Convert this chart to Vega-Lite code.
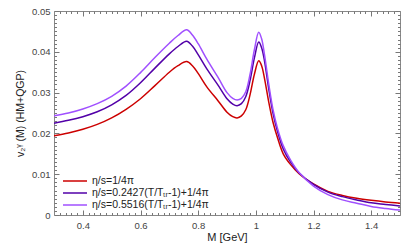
{
  "$schema": "https://vega.github.io/schema/vega-lite/v6.json",
  "width": 346,
  "height": 204,
  "autosize": {"type": "none"},
  "padding": {"left": 54, "top": 11, "right": 12, "bottom": 32},
  "background": "white",
  "config": {
    "font": "Liberation Sans",
    "view": {"stroke": "#888", "strokeWidth": 1},
    "axis": {"grid": false, "domain": false, "tickColor": "#777", "labelColor": "#444", "labelFont": "Liberation Sans", "titleFont": "Liberation Sans", "titleFontWeight": "normal", "titleColor": "#222"}
  },
  "data": {"values": [
    {"M":0.3,"a":0.0194,"b":0.0225,"c":0.0243},
    {"M":0.35,"a":0.0201,"b":0.0232,"c":0.0250},
    {"M":0.4,"a":0.0210,"b":0.0241,"c":0.0260},
    {"M":0.45,"a":0.0222,"b":0.0253,"c":0.0273},
    {"M":0.5,"a":0.0238,"b":0.0270,"c":0.0291},
    {"M":0.55,"a":0.0259,"b":0.0293,"c":0.0316},
    {"M":0.6,"a":0.0285,"b":0.0324,"c":0.0349},
    {"M":0.65,"a":0.0317,"b":0.0360,"c":0.0386},
    {"M":0.7,"a":0.0350,"b":0.0395,"c":0.0421},
    {"M":0.73,"a":0.0366,"b":0.0413,"c":0.0440},
    {"M":0.76,"a":0.0376,"b":0.0426,"c":0.0454},
    {"M":0.78,"a":0.0366,"b":0.0414,"c":0.0441},
    {"M":0.8,"a":0.0347,"b":0.0393,"c":0.0420},
    {"M":0.83,"a":0.0314,"b":0.0358,"c":0.0382},
    {"M":0.87,"a":0.0279,"b":0.0317,"c":0.0336},
    {"M":0.9,"a":0.0252,"b":0.0285,"c":0.0300},
    {"M":0.92,"a":0.0241,"b":0.0272,"c":0.0286},
    {"M":0.935,"a":0.0238,"b":0.0268,"c":0.0282},
    {"M":0.95,"a":0.0243,"b":0.0273,"c":0.0286},
    {"M":0.965,"a":0.0258,"b":0.0290,"c":0.0302},
    {"M":0.98,"a":0.0295,"b":0.0330,"c":0.0345},
    {"M":0.995,"a":0.0345,"b":0.0385,"c":0.0405},
    {"M":1.01,"a":0.0378,"b":0.0424,"c":0.0448},
    {"M":1.02,"a":0.0366,"b":0.0410,"c":0.0432},
    {"M":1.03,"a":0.0335,"b":0.0378,"c":0.0393},
    {"M":1.045,"a":0.0276,"b":0.0308,"c":0.0320},
    {"M":1.06,"a":0.0226,"b":0.0248,"c":0.0257},
    {"M":1.075,"a":0.0190,"b":0.0205,"c":0.0213},
    {"M":1.095,"a":0.0150,"b":0.0162,"c":0.0170},
    {"M":1.12,"a":0.0124,"b":0.0130,"c":0.0135},
    {"M":1.15,"a":0.0101,"b":0.0103,"c":0.0104},
    {"M":1.2,"a":0.0076,"b":0.0075,"c":0.0071},
    {"M":1.25,"a":0.0058,"b":0.0056,"c":0.0050},
    {"M":1.3,"a":0.0048,"b":0.0045,"c":0.0037},
    {"M":1.35,"a":0.0041,"b":0.0037,"c":0.0029},
    {"M":1.4,"a":0.0036,"b":0.0030,"c":0.0021},
    {"M":1.45,"a":0.0032,"b":0.0026,"c":0.0016},
    {"M":1.5,"a":0.0029,"b":0.0022,"c":0.0012}
  ]},
  "transform": [{"fold": ["a", "b", "c"], "as": ["series", "v2"]}],
  "resolve": {"axis": {"x": "independent", "y": "independent"}},
  "layer": [
    {
      "mark": {"type": "line", "interpolate": "catmull-rom", "strokeWidth": 1.5, "clip": true},
      "encoding": {
        "x": {"field": "M", "type": "quantitative", "scale": {"domain": [0.3, 1.5], "nice": false, "zero": false},
              "axis": {"orient": "bottom", "values": [0.4, 0.6, 0.8, 1.0, 1.2, 1.4], "format": ".1~f", "tickSize": -5, "labelPadding": 10, "labelFontSize": 9.5, "title": "M [GeV]", "titleFontSize": 11, "titlePadding": 2}},
        "y": {"field": "v2", "type": "quantitative", "scale": {"domain": [0, 0.05], "nice": false},
              "axis": {"orient": "left", "values": [0, 0.01, 0.02, 0.03, 0.04, 0.05], "format": ".2~f", "tickSize": -5, "labelPadding": 9, "labelFontSize": 9.5, "title": "v₂ᵞ (M) (HM+QGP)", "titleFontSize": 10.5, "titlePadding": 6}},
        "color": {"field": "series", "type": "nominal",
                  "scale": {"domain": ["a", "b", "c"], "range": ["#cc0000", "#5200a8", "#a050ff"]},
                  "legend": {"orient": "none", "legendX": 8, "legendY": 164, "title": null, "symbolType": "stroke", "symbolSize": 576, "symbolStrokeWidth": 1.5, "clipHeight": 12, "labelFontSize": 10.5, "labelColor": "#222", "labelFont": "Liberation Sans", "rowPadding": 0, "padding": 0, "labelOffset": 4,
                             "labelExpr": "datum.value == 'a' ? 'η/s=1/4π' : datum.value == 'b' ? 'η/s=0.2427(T/Tₜᵣ-1)+1/4π' : 'η/s=0.5516(T/Tₜᵣ-1)+1/4π'"}}
      }
    },
    {
      "mark": {"type": "point", "opacity": 0},
      "encoding": {
        "x": {"field": "M", "type": "quantitative", "axis": {"orient": "bottom", "values": [0.32,0.34,0.36,0.38,0.42,0.44,0.46,0.48,0.5,0.52,0.54,0.56,0.58,0.62,0.64,0.66,0.68,0.7,0.72,0.74,0.76,0.78,0.82,0.84,0.86,0.88,0.9,0.92,0.94,0.96,0.98,1.02,1.04,1.06,1.08,1.1,1.12,1.14,1.16,1.18,1.22,1.24,1.26,1.28,1.3,1.32,1.34,1.36,1.38,1.42,1.44,1.46,1.48], "labels": false, "tickSize": -2.5, "title": null}},
        "y": {"field": "v2", "type": "quantitative", "axis": {"orient": "left", "values": [0.001,0.002,0.003,0.004,0.005,0.006,0.007,0.008,0.009,0.011,0.012,0.013,0.014,0.015,0.016,0.017,0.018,0.019,0.021,0.022,0.023,0.024,0.025,0.026,0.027,0.028,0.029,0.031,0.032,0.033,0.034,0.035,0.036,0.037,0.038,0.039,0.041,0.042,0.043,0.044,0.045,0.046,0.047,0.048,0.049], "labels": false, "tickSize": -2.5, "title": null}}
      }
    },
    {
      "mark": {"type": "point", "opacity": 0},
      "encoding": {
        "x": {"field": "M", "type": "quantitative", "axis": {"orient": "top", "values": [0.4, 0.6, 0.8, 1.0, 1.2, 1.4], "labels": false, "tickSize": -5, "title": null}},
        "y": {"field": "v2", "type": "quantitative", "axis": {"orient": "right", "values": [0, 0.01, 0.02, 0.03, 0.04, 0.05], "labels": false, "tickSize": -5, "title": null}}
      }
    },
    {
      "mark": {"type": "point", "opacity": 0},
      "encoding": {
        "x": {"field": "M", "type": "quantitative", "axis": {"orient": "top", "values": [0.32,0.34,0.36,0.38,0.42,0.44,0.46,0.48,0.5,0.52,0.54,0.56,0.58,0.62,0.64,0.66,0.68,0.7,0.72,0.74,0.76,0.78,0.82,0.84,0.86,0.88,0.9,0.92,0.94,0.96,0.98,1.02,1.04,1.06,1.08,1.1,1.12,1.14,1.16,1.18,1.22,1.24,1.26,1.28,1.3,1.32,1.34,1.36,1.38,1.42,1.44,1.46,1.48], "labels": false, "tickSize": -2.5, "title": null}},
        "y": {"field": "v2", "type": "quantitative", "axis": {"orient": "right", "values": [0.001,0.002,0.003,0.004,0.005,0.006,0.007,0.008,0.009,0.011,0.012,0.013,0.014,0.015,0.016,0.017,0.018,0.019,0.021,0.022,0.023,0.024,0.025,0.026,0.027,0.028,0.029,0.031,0.032,0.033,0.034,0.035,0.036,0.037,0.038,0.039,0.041,0.042,0.043,0.044,0.045,0.046,0.047,0.048,0.049], "labels": false, "tickSize": -2.5, "title": null}}
      }
    }
  ]
}
